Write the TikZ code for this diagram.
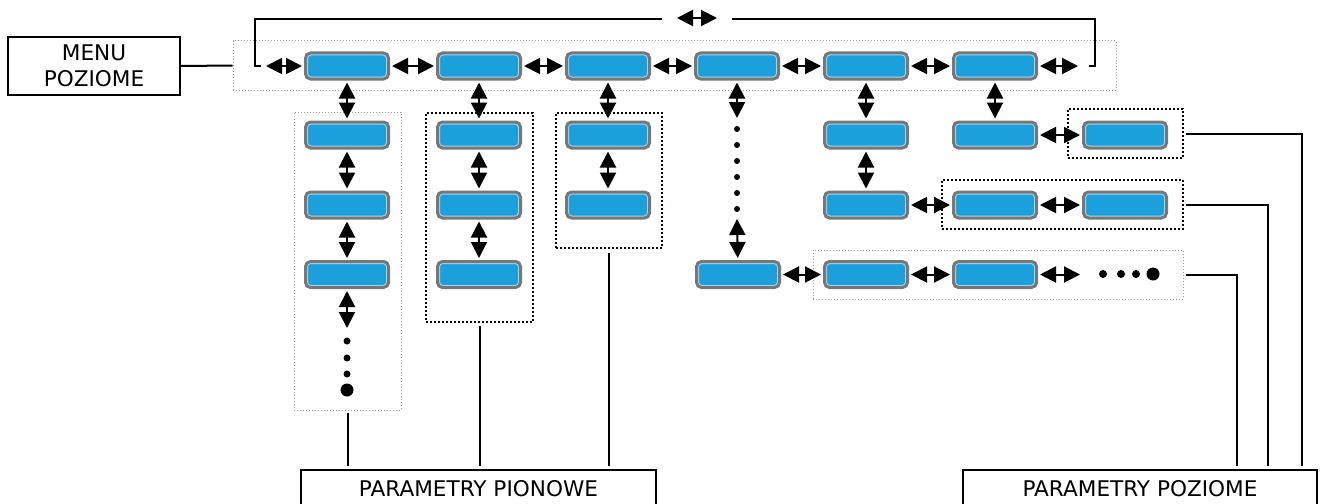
\documentclass[tikz,border=0pt]{standalone}
\usepackage{fontspec}
\setmainfont{DejaVu Sans}
\usetikzlibrary{arrows.meta,fit}

\definecolor{itemblue}{HTML}{1BA0DB}
\definecolor{itemrim}{HTML}{777777}
\definecolor{itemglow}{HTML}{A6D6EE}
\definecolor{groupgray}{HTML}{9A9A9A}

\tikzset{
  item/.style={rounded corners=5pt, fill=itemblue, draw=itemrim, line width=3pt,
    minimum width=83pt, minimum height=26pt, inner sep=0pt,
    path picture={\draw[itemglow, line width=5pt, rounded corners=5pt]
      (path picture bounding box.south west) rectangle (path picture bounding box.north east);}},
  biarrow/.style={{Triangle[length=16pt,width=16pt]}-{Triangle[length=16pt,width=16pt]},
    line width=2pt, shorten <=2pt, shorten >=2pt},
  conn/.style={line width=2pt, black},
  grpgray/.style={draw=groupgray, line width=1pt, dash pattern=on 1pt off 2pt, inner sep=0pt},
  grpblack/.style={draw=black, line width=2pt, dash pattern=on 2pt off 2pt, inner sep=0pt},
  labelbox/.style={draw=black, line width=2pt, inner sep=0pt, align=center,
    font=\fontsize{21.6}{26}\selectfont},
  dot/.style={fill=black, inner sep=0pt, circle}
}

\begin{document}
\begin{tikzpicture}[x=1pt, y=-1pt]
\useasboundingbox (0,0) rectangle (1324,503);

% group frames
\node[grpgray,  fit={(233,41) (1116,90)}]   (gtop) {};
\node[grpgray,  fit={(294,112) (401,410)}]  (ga) {};
\node[grpblack, fit={(426,113) (533,322)}]  (gb) {};
\node[grpblack, fit={(556,113) (662,248)}]  (gc) {};
\node[grpblack, fit={(1068,109) (1183,158)}] (gr2) {};
\node[grpblack, fit={(942,180) (1183,229)}]  (gr3) {};
\node[grpgray,  fit={(813,250) (1183,299)}]  (gr4) {};

% labels
\node[labelbox, minimum width=172pt, minimum height=58pt] (menu) at (94,66) {MENU\\POZIOME};
\node[labelbox, minimum width=355pt, minimum height=38pt] (pion) at (478.5,489) {PARAMETRY PIONOWE};
\node[labelbox, minimum width=354pt, minimum height=38pt] (pioz) at (1140,489) {PARAMETRY POZIOME};

% top menu row
\node[item] (t1) at (347,66) {};
\node[item] (t2) at (479,66) {};
\node[item] (t3) at (608,66) {};
\node[item] (t4) at (737,66) {};
\node[item] (t5) at (866,66) {};
\node[item] (t6) at (995,66) {};

% column 1
\node[item] (a2) at (347,135) {};
\node[item] (a3) at (347,205) {};
\node[item] (a4) at (347,274.5) {};
% column 2
\node[item] (b2) at (479,135) {};
\node[item] (b3) at (479,205) {};
\node[item] (b4) at (479,274.5) {};
% column 3
\node[item] (c2) at (608,135) {};
\node[item] (c3) at (608,205) {};
% column 4
\node[item] (d4) at (738,274.5) {};
% column 5
\node[item] (e2) at (866,135) {};
\node[item] (e3) at (866,205) {};
\node[item] (e4) at (866,274.5) {};
% column 6
\node[item] (f2) at (995,135) {};
\node[item] (f3) at (995,205) {};
\node[item] (f4) at (995,274.5) {};
% column 7
\node[item] (g2) at (1125,135) {};
\node[item] (g3) at (1125,205) {};

% free ends
\coordinate (lin) at (264,66);
\coordinate (rout) at (1080,66);
\coordinate (adown) at (347,330);
\coordinate (ddown) at (737,120);
\coordinate (dup) at (737,217);
\coordinate (fout) at (1082,274.5);
\coordinate (wl) at (675,18);
\coordinate (wr) at (719,18);
\coordinate (k1) at (1302,0);
\coordinate (k2) at (1268,0);
\coordinate (k3) at (1237,0);

% wrap-around bracket
\draw[conn] (261,66) -- (255,66) -- (255,19) -- (662,19);
\draw[conn] (732,19) -- (1095,19) -- (1095,66) -- (1089,66);
\draw[biarrow] (wl) -- (wr);

% horizontal arrows
\draw[biarrow] (lin) -- (t1);
\draw[biarrow] (t1) -- (t2);
\draw[biarrow] (t2) -- (t3);
\draw[biarrow] (t3) -- (t4);
\draw[biarrow] (t4) -- (t5);
\draw[biarrow] (t5) -- (t6);
\draw[biarrow] (t6) -- (rout);
\draw[biarrow] (f2) -- (g2);
\draw[biarrow] (e3) -- (f3);
\draw[biarrow] (f3) -- (g3);
\draw[biarrow] (d4) -- (e4);
\draw[biarrow] (e4) -- (f4);
\draw[biarrow] (f4) -- (fout);

% vertical arrows
\draw[biarrow] (t1) -- (a2);
\draw[biarrow] (a2) -- (a3);
\draw[biarrow] (a3) -- (a4);
\draw[biarrow] (a4) -- (adown);
\draw[biarrow] (t2) -- (b2);
\draw[biarrow] (b2) -- (b3);
\draw[biarrow] (b3) -- (b4);
\draw[biarrow] (t3) -- (c2);
\draw[biarrow] (c2) -- (c3);
\draw[biarrow] (t4) -- (ddown);
\draw[biarrow] (dup) -- (d4);
\draw[biarrow] (t5) -- (e2);
\draw[biarrow] (e2) -- (e3);
\draw[biarrow] (t6) -- (f2);

% continuation dots
\foreach \y in {341,358,374} \node[dot, minimum size=7pt] at (347,\y) {};
\node[dot, minimum size=13pt] at (347,390) {};
\foreach \y in {129,145,161,177,193,209} \node[dot, minimum size=6pt] at (737,\y) {};
\foreach \x in {1103,1121,1136} \node[dot, minimum size=8pt] at (\x,274) {};
\node[dot, minimum size=13pt] at (1153,274) {};

% connectors to the labels
\draw[conn] (menu.east) -- (gtop.west);
\draw[conn, shorten >=3pt] ([yshift=-2pt]ga.south) -- (ga.south |- pion.north);
\draw[conn, shorten >=3pt] ([yshift=-3pt]gb.south) -- (gb.south |- pion.north);
\draw[conn, shorten >=3pt] ([yshift=-4pt]gc.south) -- (gc.south |- pion.north);
\draw[conn, shorten >=3pt] ([xshift=2pt]gr2.east) -| (pioz.north -| k1);
\draw[conn, shorten >=3pt] ([xshift=2pt]gr3.east) -| (pioz.north -| k2);
\draw[conn, shorten >=3pt] ([xshift=2pt]gr4.east) -| (pioz.north -| k3);
\end{tikzpicture}
\end{document}
